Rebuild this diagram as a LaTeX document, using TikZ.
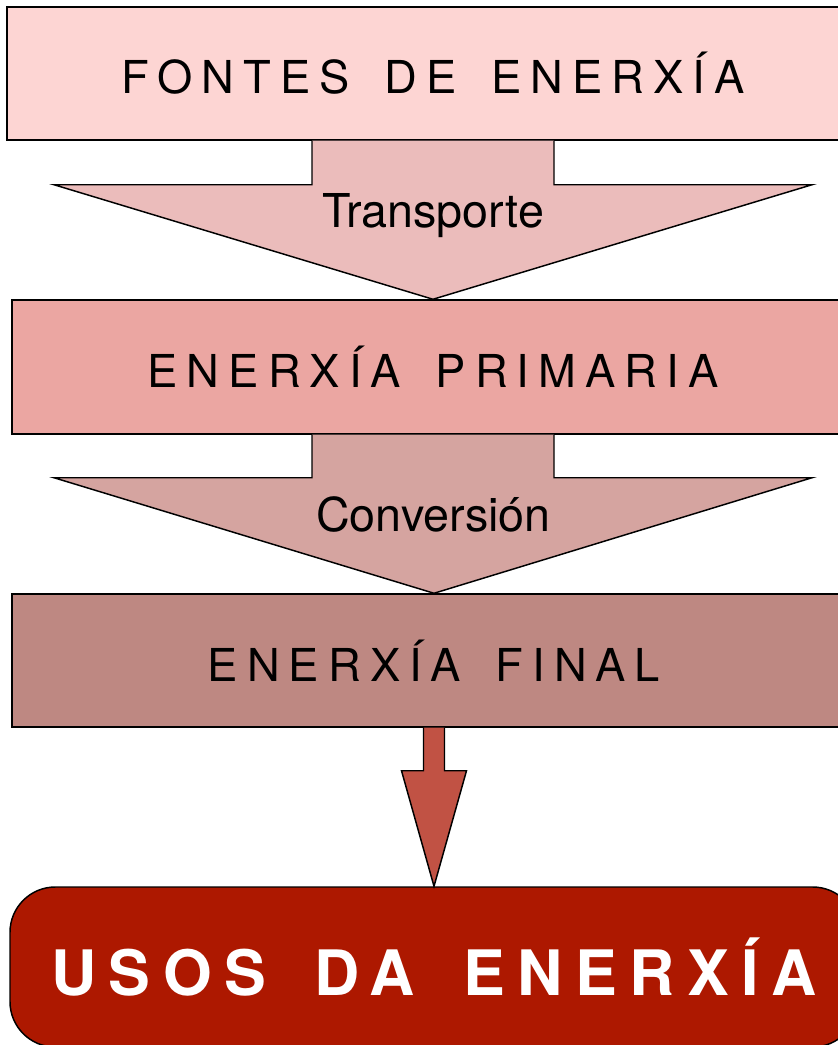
\documentclass[tikz,border=0pt]{standalone}
\usepackage{fontspec}
\setmainfont{TeX Gyre Heros}
\newfontfamily\spaced[LetterSpace=20,WordSpace=1.6]{TeX Gyre Heros}
\usetikzlibrary{calc}
\usetikzlibrary{positioning}

\definecolor{fontescol}{HTML}{FDD5D3}
\definecolor{transcol}{HTML}{EBBCBB}
\definecolor{primcol}{HTML}{EBA6A2}
\definecolor{convcol}{HTML}{D5A4A0}
\definecolor{finalcol}{HTML}{BE8882}
\definecolor{usoarrow}{HTML}{C15244}
\definecolor{usoscol}{HTML}{AD1800}

\begin{document}
\begin{tikzpicture}[x=0.75pt,y=-0.75pt,
  stage/.style={draw=black,line width=1.1pt,rectangle,inner sep=0pt,
    font=\spaced\fontsize{34}{40}\selectfont},
  usesbox/.style={draw=black,line width=1.1pt,rectangle,rounded corners=34pt,
    inner sep=0pt,text=white,font=\spaced\bfseries\fontsize{47}{56}\selectfont},
  flow/.style={draw=black,line width=1.1pt,line join=miter},
  flowlabel/.style={font=\fontsize{35}{40}\selectfont}]
\clip (0,0) rectangle (838,1045);

\node[stage,fill=fontescol,minimum width=639pt,minimum height=99.75pt] (fontes) at (433,73.5) {FONTES DE ENERXÍA};
\node[stage,fill=primcol,minimum width=631.5pt,minimum height=100.5pt] (primaria) at (433,367) {ENERXÍA PRIMARIA};
\node[stage,fill=finalcol,minimum width=633pt,minimum height=99.75pt] (final) at (434,660.5) {ENERXÍA FINAL};
\node[usesbox,fill=usoscol,minimum width=636pt,minimum height=120pt] (usos) at (434,967) {USOS DA ENERXÍA};

% transporte
\draw[flow,fill=transcol] ($(fontes.south)+(-121,0)$) -- ++(0,44) -- ++(-258,0)
  -- (primaria.north) -- ($(fontes.south)+(379,44)$) -- ++(-258,0) -- ++(0,-44);
\node[flowlabel] (transporte) at ($(fontes.south)!0.47!(primaria.north)$) {Transporte};

% conversion
\draw[flow,fill=convcol] ($(primaria.south)+(-121,0)$) -- ++(0,43) -- ++(-258,0)
  -- (final.north) -- ($(primaria.south)+(379,43)$) -- ++(-258,0) -- ++(0,-43);
\node[flowlabel] (conversion) at ($(primaria.south)!0.5!(final.north)$) {Conversión};

% usos
\draw[flow,fill=usoarrow] ($(final.south)+(-10.5,0)$) -- ++(0,43) -- ++(-22,0)
  -- (usos.north) -- ($(final.south)+(32.5,43)$) -- ++(-22,0) -- ++(0,-43);

\end{tikzpicture}
\end{document}
